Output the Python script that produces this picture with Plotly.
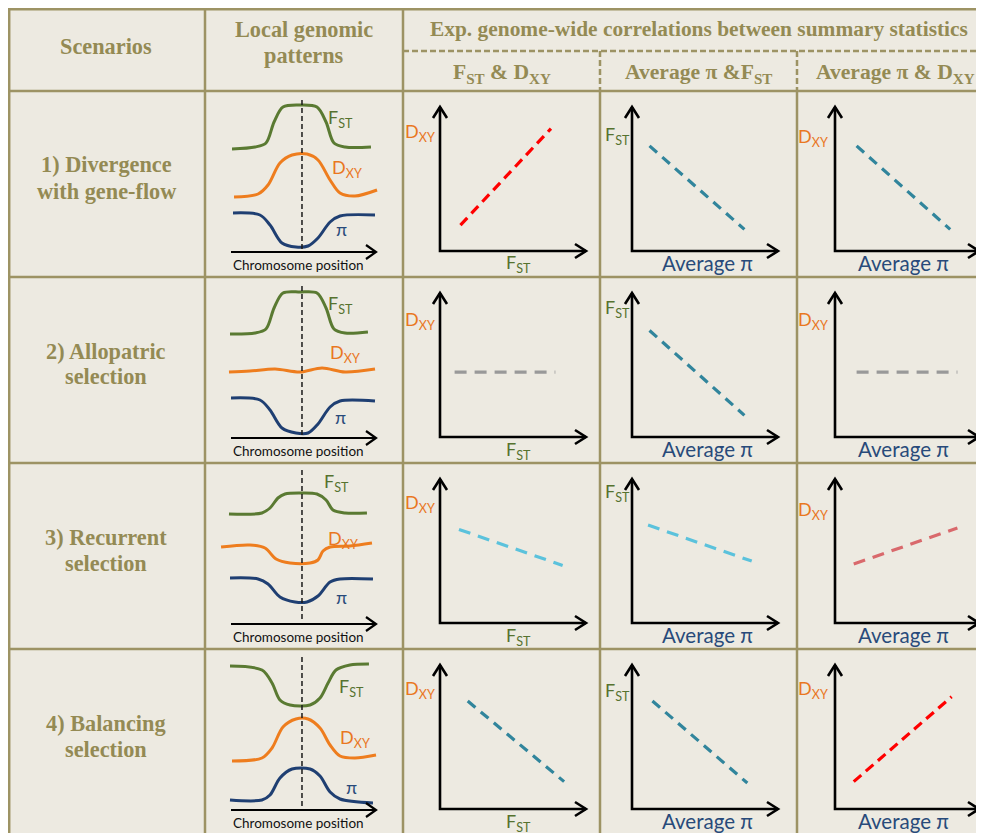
import plotly.graph_objects as go

W, H = 984, 833
OFF = 8  # page body margin of the browser: reference pixels = figure pixels + 8

# ---------------- data ----------------
header_scen = "Scenarios"
header_local = "Local genomic<br>patterns"
header_main = "Exp. genome-wide correlations between summary statistics"
pair_headers = ["F<sub>ST</sub> &amp; D<sub>XY</sub>", "Average π &amp;F<sub>ST</sub>", "Average π &amp; D<sub>XY</sub>"]
scenario_labels = ["1) Divergence<br>with gene-flow", "2) Allopatric<br>selection",
                   "3) Recurrent<br>selection", "4) Balancing<br>selection"]
pair_x_labels = ["F<sub>ST</sub>", "Average π", "Average π"]
pair_y_labels = ["D<sub>XY</sub>", "F<sub>ST</sub>", "D<sub>XY</sub>"]
stat_labels = ["F<sub>ST</sub>", "D<sub>XY</sub>", "π"]
chrom_label = "Chromosome position"

locus_pos = 49.3   # focal locus along the chromosome (0-100)
locus_top = [152, 152, 154, 153]

# local genomic profiles: chromosome position (0-100) and relative level
fst_pos = [
    [0.7, 16.7, 24.3, 29.9, 36.1, 47.9, 59.7, 66.0, 71.5, 79.2, 97.2],
    [-0.7, 16.7, 24.3, 29.9, 36.1, 47.9, 59.7, 66.0, 71.5, 79.2, 95.1],
    [-1.4, 21.5, 27.1, 32.6, 37.5, 47.9, 59.7, 66.0, 70.8, 79.2, 94.4],
    [-0.7, 21.5, 28.5, 34.0, 41.0, 54.9, 61.8, 67.4, 72.9, 82.6, 95.8],
]
fst_lvl = [
    [103, 105, 109, 130, 145, 147, 145, 130, 109, 105, 105],
    [104, 105, 109, 130, 145, 146, 145, 130, 109, 105, 106],
    [110, 111, 116, 126, 130, 131, 130, 124, 114, 111, 111],
    [144, 140, 127, 110, 105, 105, 112, 127, 140, 145, 146],
]
dxy_pos = [
    [2.1, 18.8, 25.7, 34.0, 42.4, 52.8, 60.4, 68.8, 75.7, 86.1, 101.4],
    [-1.4, 13.2, 30.6, 47.9, 63.2, 79.2, 100.0],
    [-6.9, 13.2, 23.6, 31.3, 41.0, 54.9, 60.4, 63.9, 68.8, 82.6, 97.9],
    [0.7, 21.5, 28.5, 36.1, 45.1, 53.5, 61.8, 68.8, 75.7, 86.1, 100.7],
]
dxy_lvl = [
    [55, 58, 67, 89, 97, 98, 92, 72, 59, 56, 62],
    [66, 67, 69, 66, 70, 66, 69],
    [77, 79, 76, 65, 61, 61, 64, 73, 77, 78, 81],
    [49, 52, 62, 83, 91, 91, 82, 65, 54, 52, 55],
]
pi_pos = [
    [1.4, 20.1, 27.1, 35.4, 45.1, 53.5, 60.4, 68.8, 75.7, 100.0],
    [0.0, 20.1, 27.1, 35.4, 45.1, 53.5, 60.4, 68.8, 75.7, 100.0],
    [-0.7, 18.8, 25.7, 34.0, 44.4, 52.8, 60.4, 68.8, 75.7, 98.6],
    [-0.7, 21.5, 27.1, 34.0, 42.4, 54.9, 61.8, 68.8, 75.7, 98.6],
]
pi_lvl = [
    [39, 37, 27, 9, 5, 6, 14, 30, 36, 37],
    [40, 38, 28, 10, 5, 5, 14, 31, 37, 37],
    [46, 45, 40, 27, 22, 22, 28, 42, 45, 45],
    [10, 10, 15, 32, 41, 41, 34, 18, 11, 7],
]

# expected genome-wide correlations (start / end of each trend line, 0-1 axes)
corr_x0 = [[0.14, 0.12, 0.15], [0.10, 0.12, 0.15], [0.13, 0.11, 0.13], [0.19, 0.14, 0.13]]
corr_x1 = [[0.76, 0.77, 0.80], [0.79, 0.77, 0.85], [0.84, 0.82, 0.85], [0.85, 0.79, 0.81]]
corr_y0 = [[0.18, 0.73, 0.73], [0.45, 0.74, 0.45], [0.65, 0.68, 0.41], [0.75, 0.75, 0.19]]
corr_y1 = [[0.85, 0.15, 0.15], [0.45, 0.15, 0.45], [0.40, 0.43, 0.66], [0.19, 0.18, 0.78]]
corr_kind = [["strong_pos", "neg", "neg"],
             ["none", "neg", "none"],
             ["weak_neg", "weak_neg", "weak_pos"],
             ["neg", "neg", "strong_pos"]]

# ---------------- styles / layout ----------------
BG = "#EDEAE1"
GRID = "#9D9364"
HEAD = "#948A54"
GREEN = "#5A7A32"
ORANGE = "#EE7D1E"
BLUE = "#1F3F72"
LAB_GREEN = "#56722F"
LAB_ORANGE = "#E9771F"
LAB_BLUE = "#284A7A"
kind_style = {
    "strong_pos": ("#FF0000", "10px,6px"),
    "neg": ("#31859C", "10px,7px"),
    "none": ("#999999", "12px,8px"),
    "weak_neg": ("#5BC2DC", "12px,8px"),
    "weak_pos": ("#D9696C", "12px,8px"),
}
SERIF = "Liberation Serif"
SANS = "Lato"
HS = 22.3  # scenario / first-column header font size

row_tops = [91, 277, 463, 649]
corr_ox = [440, 632, 835]
corr_lx = [146, 146, 144]
CORR_LY = 144
CORR_OY = 160  # origin offset below row top
ylab_x = [420, 617, 813]
ylab_dy = [[42, 45, 46], [43, 31, 44], [40, 29, 47], [40, 42, 40]]
xlab_x = [518, 707, 903]
lab_pos = {  # label positions (pos, level) per row for FST, DXY, pi
    0: [(75.7, 134), (80.6, 84), (76.4, 23)],
    1: [(75.7, 134), (79.2, 85), (75.7, 21)],
    2: [(73.6, 141), (77.8, 85), (76.4, 27)],
    3: [(84.0, 123), (86.1, 72), (84.0, 23)],
}
CH_X0, CH_SCALE = 231, 1.44  # chromosome axis pixel start and px per unit


def PX(x):
    return (x - OFF) / W


def PY(y):
    return 1 - (y - OFF) / H


fig = go.Figure()
shapes = []
annotations = []
layout_axes = {}

shapes.append(dict(type="rect", xref="paper", yref="paper", x0=PX(OFF), x1=PX(W + 20),
                   y0=PY(H + 20), y1=PY(OFF), fillcolor=BG, line=dict(width=0), layer="below"))


def hline(x0, x1, y, dash=None, color=GRID, w=2.5):
    shapes.append(dict(type="line", xref="paper", yref="paper", x0=PX(x0), x1=PX(x1),
                       y0=PY(y), y1=PY(y), line=dict(color=color, width=w, dash=dash)))


def vline(x, y0, y1, dash=None, color=GRID, w=2.5):
    shapes.append(dict(type="line", xref="paper", yref="paper", x0=PX(x), x1=PX(x),
                       y0=PY(y0), y1=PY(y1), line=dict(color=color, width=w, dash=dash)))


def path(pts, color="black", w=2.5):
    d = "M " + " L ".join(f"{PX(a):.5f},{PY(b):.5f}" for a, b in pts)
    shapes.append(dict(type="path", xref="paper", yref="paper", path=d,
                       line=dict(color=color, width=w)))


def text(x, y, s, size, color, family, **kw):
    annotations.append(dict(x=PX(x), y=PY(y), xref="paper", yref="paper", text=s,
                            showarrow=False, xanchor="center", yanchor="middle",
                            font=dict(size=size, color=color, family=family), **kw))


def lines_text(x, y0, gap, s, size, color, family):
    for i, part in enumerate(s.split("<br>")):
        text(x, y0 + i * gap, f"<b>{part}</b>", size, color, family)


# table grid
hline(OFF, W + 20, 9.2)
vline(9.2, OFF, H + 20)
vline(205, OFF, H + 20)
vline(403, OFF, H + 20)
hline(403, W + 20, 51, dash="6px,3px")
vline(600, 51, 91, dash="6px,3px")
vline(797, 51, 91, dash="6px,3px")
vline(600, 91, H + 20)
vline(797, 91, H + 20)
hline(OFF, W + 20, 91)
for t in row_tops[1:]:
    hline(OFF, W + 20, t)

# headers
text(106, 46, f"<b>{header_scen}</b>", HS, HEAD, SERIF)
lines_text(304, 29, 27, header_local, HS, HEAD, SERIF)
text(699, 29, f"<b>{header_main}</b>", 21.4, HEAD, SERIF)
for cx, s in zip([502, 698, 895], pair_headers):
    text(cx, 73, f"<b>{s}</b>", 21.6, HEAD, SERIF)

axis_n = [0]


def new_axes(xdom, ydom, xr, yr):
    axis_n[0] += 1
    n = axis_n[0]
    xk = "xaxis" if n == 1 else f"xaxis{n}"
    yk = "yaxis" if n == 1 else f"yaxis{n}"
    xref = "x" if n == 1 else f"x{n}"
    yref = "y" if n == 1 else f"y{n}"
    layout_axes[xk] = dict(domain=[max(0, xdom[0]), min(1, xdom[1])], range=xr,
                           visible=False, fixedrange=True, anchor=yref)
    layout_axes[yk] = dict(domain=[max(0, ydom[0]), min(1, ydom[1])], range=yr,
                           visible=False, fixedrange=True, anchor=xref)
    return xref, yref


for r, top in enumerate(row_tops):
    lines_text(106, top + 74, 26, scenario_labels[r], HS, HEAD, SERIF)

    # ----- local genomic patterns -----
    axis_y = top + 161
    pb = top + 180
    xr = [(205 - CH_X0) / CH_SCALE, (403 - CH_X0) / CH_SCALE]
    yr = [axis_y - pb, axis_y - top]
    xa, ya = new_axes([PX(205), PX(403)], [PY(pb), PY(top)], xr, yr)
    for xs, ys, col in [(fst_pos[r], fst_lvl[r], GREEN), (dxy_pos[r], dxy_lvl[r], ORANGE),
                        (pi_pos[r], pi_lvl[r], BLUE)]:
        fig.add_trace(go.Scatter(x=xs, y=ys, mode="lines", xaxis=xa, yaxis=ya,
                                 line=dict(color=col, width=3, shape="spline", smoothing=0.9),
                                 hoverinfo="skip"))
    fig.add_trace(go.Scatter(x=[locus_pos, locus_pos], y=[locus_top[r], 2], mode="lines",
                             xaxis=xa, yaxis=ya, hoverinfo="skip",
                             line=dict(color="#1A1A1A", width=1.5, dash="5px,3px")))
    for (lp, ll), s, c in zip(lab_pos[r], stat_labels, [LAB_GREEN, LAB_ORANGE, LAB_BLUE]):
        annotations.append(dict(x=lp, y=ll, xref=xa, yref=ya, text=s, showarrow=False,
                                xanchor="center", yanchor="middle",
                                font=dict(size=18, color=c, family=SANS)))
    # chromosome axis
    path([(CH_X0, axis_y), (376, axis_y)], w=2.2)
    path([(366, axis_y - 7), (376, axis_y), (366, axis_y + 7)], w=2.2)
    text(298, axis_y + 13, chrom_label, 13.5, "#111111", SANS)

    # ----- correlation panels -----
    oy = top + CORR_OY
    for c in range(3):
        ox, lx = corr_ox[c], corr_lx[c]
        xa, ya = new_axes([PX(ox), PX(ox + lx)], [PY(oy), PY(oy - CORR_LY)], [0, 1], [0, 1])
        col, dash = kind_style[corr_kind[r][c]]
        fig.add_trace(go.Scatter(x=[corr_x0[r][c], corr_x1[r][c]],
                                 y=[corr_y0[r][c], corr_y1[r][c]], mode="lines",
                                 xaxis=xa, yaxis=ya, hoverinfo="skip",
                                 line=dict(color=col, width=3.2, dash=dash)))
        # axes with open arrowheads
        path([(ox, oy - CORR_LY), (ox, oy), (ox + lx, oy)], w=2.6)
        path([(ox - 7, oy - CORR_LY + 11), (ox, oy - CORR_LY), (ox + 7, oy - CORR_LY + 11)], w=2.6)
        path([(ox + lx - 11, oy - 7), (ox + lx, oy), (ox + lx - 11, oy + 7)], w=2.6)
        ycol = LAB_ORANGE if "D" in pair_y_labels[c] else LAB_GREEN
        text(ylab_x[c], top + ylab_dy[r][c], pair_y_labels[c], 18, ycol, SANS)
        if "F" in pair_x_labels[c]:
            text(xlab_x[c], top + 173, pair_x_labels[c], 18, LAB_GREEN, SANS)
        else:
            text(xlab_x[c], top + 172, pair_x_labels[c], 20.5, LAB_BLUE, SANS)

fig.update_layout(width=W, height=H, margin=dict(l=0, r=0, t=0, b=0),
                  paper_bgcolor="white", plot_bgcolor="rgba(0,0,0,0)",
                  showlegend=False, shapes=shapes, annotations=annotations, **layout_axes)
fig.write_html("out.html")
